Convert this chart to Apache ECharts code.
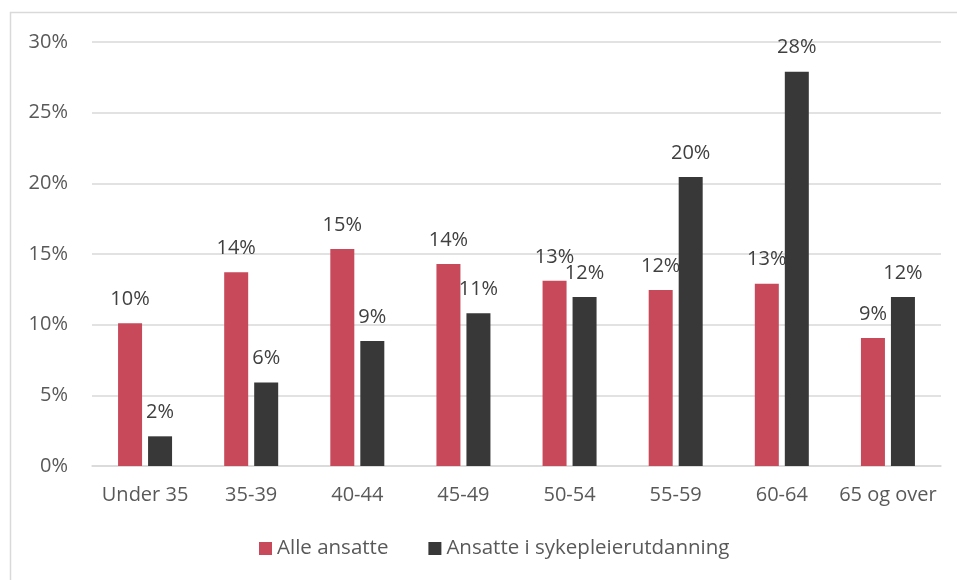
<!DOCTYPE html>
<html>
<head>
<meta charset="utf-8">
<script src="https://cdn.jsdelivr.net/npm/echarts@6/dist/echarts.min.js"></script>
<style>
html,body{margin:0;padding:0;background:#fff;}
#chart{width:957px;height:580px;}
</style>
</head>
<body>
<div id="chart"></div>
<script>
const categories = ['Under 35','35-39','40-44','45-49','50-54','55-59','60-64','65 og over'];
const alleAnsatte = [10.1, 13.7, 15.35, 14.3, 13.1, 12.45, 12.9, 9.05];
const sykepleier = [2.1, 5.9, 8.85, 10.8, 11.95, 20.45, 27.9, 11.95];
const seriesNames = ['Alle ansatte', 'Ansatte i sykepleierutdanning'];
const yTicks = [0, 5, 10, 15, 20, 25, 30];

const FONT = '"Open Sans"';
const FS = 20;
const chart = echarts.init(document.getElementById('chart'), null, {renderer: 'canvas'});
const labelCfg = {
  show: true,
  position: 'top',
  distance: 14,
  color: '#404040',
  fontFamily: FONT,
  fontSize: FS,
  formatter: p => Math.round(p.value) + '%'
};
chart.setOption({
  animation: false,
  textStyle: {fontFamily: FONT},
  graphic: [{
    type: 'rect',
    shape: {x: 10.5, y: 12.5, width: 1000, height: 700},
    style: {fill: 'none', stroke: '#d9d9d9', lineWidth: 1.5},
    silent: true
  }],
  grid: {left: 92, right: 16, top: 42, bottom: 114, containLabel: false},
  legend: {
    bottom: 16,
    left: 254,
    itemWidth: 13,
    itemHeight: 13,
    itemGap: 40,
    icon: 'rect',
    textStyle: {color: '#595959', fontSize: 20.5, fontFamily: FONT},
    data: seriesNames
  },
  xAxis: {
    type: 'category',
    data: categories,
    axisLine: {lineStyle: {color: '#d9d9d9', width: 1.5}},
    axisTick: {show: false},
    axisLabel: {color: '#595959', fontSize: FS, fontFamily: FONT, margin: 19, interval: 0}
  },
  yAxis: {
    type: 'value',
    min: yTicks[0],
    max: yTicks[yTicks.length - 1],
    interval: 5,
    axisLine: {show: false},
    axisTick: {show: false},
    splitLine: {lineStyle: {color: '#d9d9d9', width: 1.5}},
    axisLabel: {color: '#595959', fontSize: FS, fontFamily: FONT, margin: 24, formatter: v => v + '%'}
  },
  series: [
    {name: seriesNames[0], type: 'bar', data: alleAnsatte, barWidth: 24, barGap: '25%',
     itemStyle: {color: '#C8495A'}, label: labelCfg},
    {name: seriesNames[1], type: 'bar', data: sykepleier, barWidth: 24,
     itemStyle: {color: '#383838'}, label: labelCfg}
  ]
});
</script>
</body>
</html>
